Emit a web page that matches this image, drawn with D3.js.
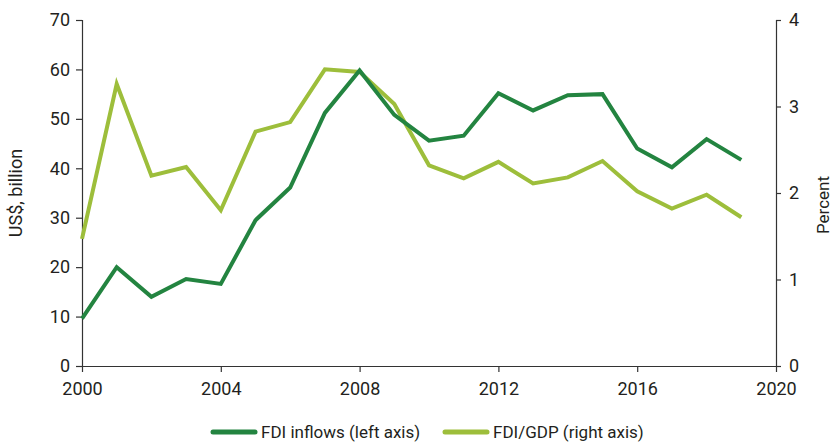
<!DOCTYPE html>
<html>
<head>
<meta charset="utf-8">
<script src="https://cdn.jsdelivr.net/npm/d3@7"></script>
<style>
  body { margin: 0; background: #fff; }
  svg text { font-family: "Roboto", "Liberation Sans", sans-serif; fill: #231f20; }
</style>
</head>
<body>
<svg width="833" height="443"></svg>
<script>
const years = [2000, 2001, 2002, 2003, 2004, 2005, 2006, 2007, 2008, 2009,
               2010, 2011, 2012, 2013, 2014, 2015, 2016, 2017, 2018, 2019];
const fdiInflows = [9.6, 20.0, 14.0, 17.6, 16.6, 29.5, 36.1, 51.2, 59.8, 50.8,
                    45.6, 46.6, 55.2, 51.7, 54.8, 55.0, 44.0, 40.2, 45.9, 41.7];
const fdiGdp = [1.47, 3.26, 2.20, 2.30, 1.80, 2.71, 2.82, 3.43, 3.40, 3.03,
                2.32, 2.17, 2.36, 2.11, 2.18, 2.37, 2.02, 1.82, 1.98, 1.72];
const xTicks = [2000, 2004, 2008, 2012, 2016, 2020];
const leftTicks = [0, 10, 20, 30, 40, 50, 60, 70];
const rightTicks = [0, 1, 2, 3, 4];
const seriesNames = ["FDI inflows (left axis)", "FDI/GDP (right axis)"];

const margin = { top: 20, right: 57, bottom: 77, left: 82 };
const width = 833 - margin.left - margin.right;
const height = 443 - margin.top - margin.bottom;
const dark = "#238440";
const light = "#9dbe3b";

const svg = d3.select("svg");
const g = svg.append("g").attr("transform", `translate(${margin.left},${margin.top})`);

const x = d3.scaleLinear().domain([2000, 2020]).range([0, width]);
const yL = d3.scaleLinear().domain([0, 70]).range([height, 0]);
const yR = d3.scaleLinear().domain([0, 4]).range([height, 0]);

function styleAxis(sel) {
    sel.select(".domain").attr("stroke", "#333").attr("stroke-width", 1.2);
    sel.selectAll(".tick line").attr("stroke", "#333").attr("stroke-width", 1.2);
    sel.selectAll("text").style("font-size", "18px");
}

g.append("g")
    .attr("transform", `translate(0,${height})`)
    .call(d3.axisBottom(x).tickValues(xTicks).tickFormat(d3.format("d")).tickSizeOuter(0).tickSize(6).tickPadding(10))
    .call(styleAxis)
    .call(s => s.selectAll(".tick").filter(d => d === 2000 || d === 2020).select("line").remove());

g.append("g")
    .call(d3.axisLeft(yL).tickValues(leftTicks).tickSizeOuter(0).tickSize(6).tickPadding(6))
    .call(styleAxis);

g.append("g")
    .attr("transform", `translate(${width},0)`)
    .call(d3.axisRight(yR).tickValues(rightTicks).tickFormat(d3.format("d")).tickSizeOuter(0).tickSize(5).tickPadding(8))
    .call(styleAxis);

const lineL = d3.line().x((d, i) => x(years[i])).y(d => yL(d));
const lineR = d3.line().x((d, i) => x(years[i])).y(d => yR(d));

g.append("path").datum(fdiGdp)
    .attr("fill", "none").attr("stroke", light).attr("stroke-width", 4)
    .attr("stroke-linejoin", "miter").attr("d", lineR);

g.append("path").datum(fdiInflows)
    .attr("fill", "none").attr("stroke", dark).attr("stroke-width", 4)
    .attr("stroke-linejoin", "miter").attr("d", lineL);

svg.append("text")
    .attr("transform", `translate(22,${margin.top + height / 2}) rotate(-90)`)
    .attr("text-anchor", "middle")
    .style("font-size", "18px")
    .text("US$, billion");

svg.append("text")
    .attr("transform", `translate(829,${margin.top + height / 2 + 12}) rotate(-90)`)
    .attr("text-anchor", "middle")
    .style("font-size", "17px")
    .text("Percent");

// legend
const legend = svg.append("g").attr("transform", "translate(213,432)");
const legendX = [0, 232];
[dark, light].forEach((c, i) => {
    legend.append("line")
        .attr("x1", legendX[i]).attr("x2", legendX[i] + 42)
        .attr("y1", 0).attr("y2", 0)
        .attr("stroke", c).attr("stroke-width", 5).attr("stroke-linecap", "round");
    legend.append("text")
        .attr("x", legendX[i] + 48).attr("y", 6)
        .style("font-size", "17px")
        .text(seriesNames[i]);
});
</script>
</body>
</html>
